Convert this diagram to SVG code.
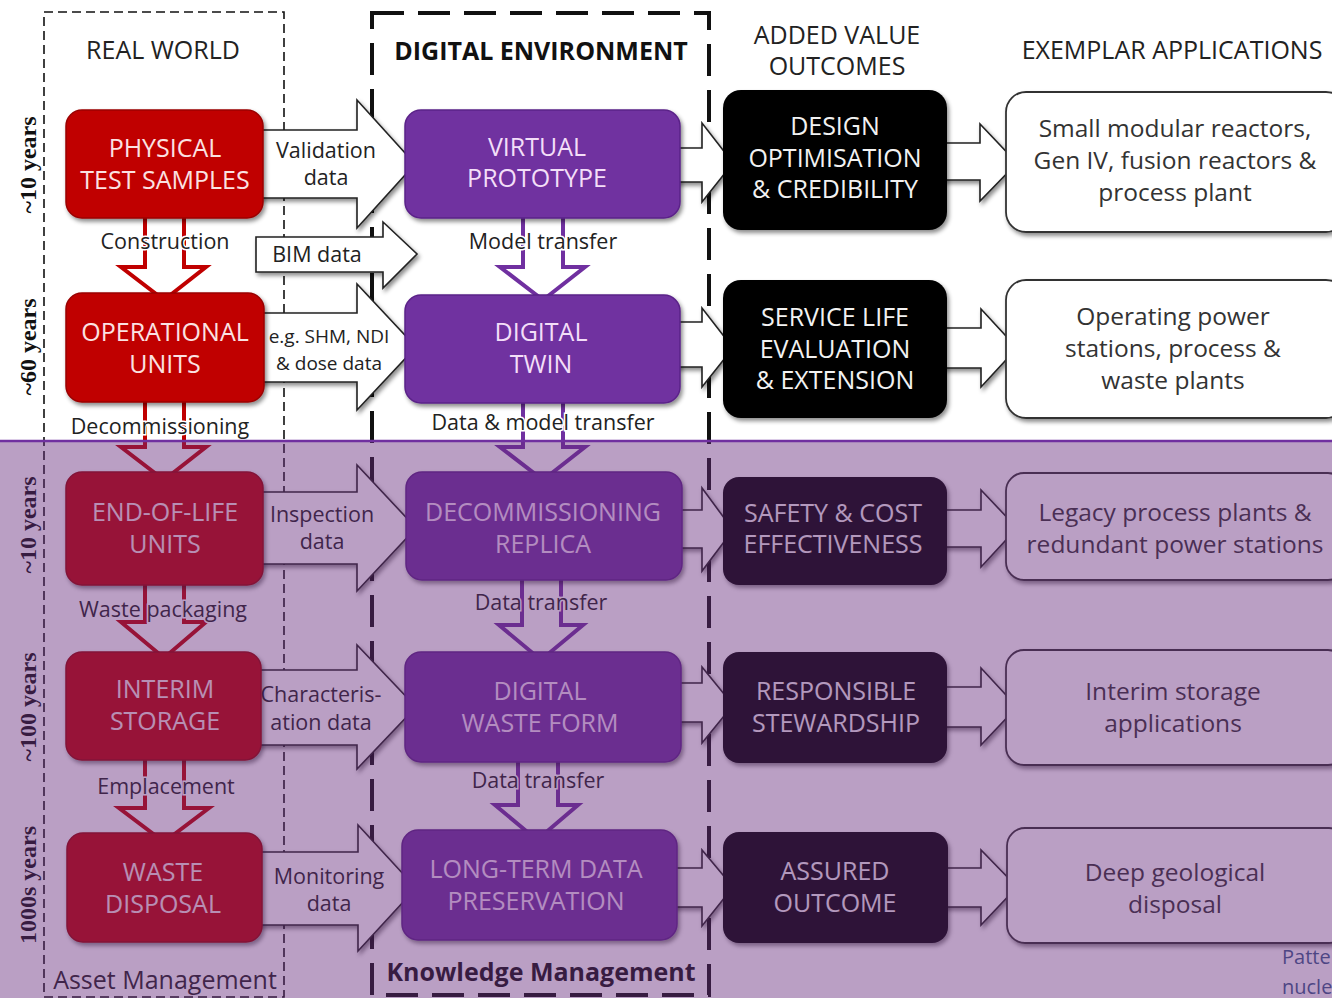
<svg xmlns="http://www.w3.org/2000/svg" width="1332" height="998" viewBox="0 0 1332 998">
  <defs>
    <filter id="shadow" x="-10%" y="-10%" width="130%" height="140%">
      <feDropShadow dx="2" dy="3" stdDeviation="2" flood-color="#000" flood-opacity="0.45"/>
    </filter>
    <style>
      text { font-family: "Open Sans", "Noto Sans", "Liberation Sans", sans-serif; text-anchor: middle; }
      .hdr { font-size: 25px; fill: #222; }
      .hdrb { font-size: 25px; font-weight: bold; fill: #111; }
      .yr { font-family: "Liberation Serif", "DejaVu Serif", serif; font-size: 24px; font-weight: bold; fill: #111; }
      .frame-thin { fill: none; stroke: #111; stroke-width: 1.6; stroke-dasharray: 9 5; }
      .frame-thick { fill: none; stroke: #111; stroke-width: 4; stroke-dasharray: 32 14; }
      .red { fill: #c00000; stroke: #9a0000; stroke-width: 1.5; filter: url(#shadow); }
      .pur { fill: #7030a0; stroke: #5a2288; stroke-width: 1.5; filter: url(#shadow); }
      .blk { fill: #000; filter: url(#shadow); }
      .wht { fill: #fff; stroke: #333; stroke-width: 1.8; filter: url(#shadow); }
      .tred { font-size: 25px; fill: #fbe2e2; }
      .tpur { font-size: 25px; fill: #f3def8; }
      .tblk { font-size: 25px; fill: #f2f2f2; }
      .twht { font-size: 24.5px; fill: #333; }
      .harrow { fill: #fff; stroke: #222; stroke-width: 1.6; stroke-linejoin: miter; filter: url(#shadow); }
      .varrow-red { fill: #fff; stroke: #c00000; stroke-width: 4; stroke-linejoin: miter; }
      .varrow-pur { fill: #fff; stroke: #7030a0; stroke-width: 4; stroke-linejoin: miter; }
      .alab { font-size: 21.5px; fill: #222; }
      .vlab { font-size: 21.5px; fill: #222; stroke: #fff; stroke-width: 3; paint-order: stroke; }
    </style>
  </defs>

  <rect x="0" y="0" width="1332" height="998" fill="#fff"/>

  <!-- column frames -->
  <g id="frames">
    <rect class="frame-thin" x="44" y="12" width="240" height="985"/>
    <rect class="frame-thick" x="372" y="13" width="337" height="982"/>
  </g>

  <!-- headers -->
  <g id="headers">
    <text class="hdr" x="163" y="59">REAL WORLD</text>
    <text class="hdrb" x="541" y="60">DIGITAL ENVIRONMENT</text>
    <text class="hdr" x="837" y="44">ADDED VALUE</text>
    <text class="hdr" x="837" y="75">OUTCOMES</text>
    <text class="hdr" x="1172" y="59">EXEMPLAR APPLICATIONS</text>
    <text class="hdr" x="165" y="989">Asset Management</text>
    <text class="hdrb" x="541" y="981">Knowledge Management</text>
  </g>

  <!-- time-scale labels -->
  <g id="timescale">
    <text class="yr" transform="translate(36,165) rotate(-90)">~10 years</text>
    <text class="yr" transform="translate(36,347) rotate(-90)">~60 years</text>
    <text class="yr" transform="translate(36,525) rotate(-90)">~10 years</text>
    <text class="yr" transform="translate(36,707) rotate(-90)">~100 years</text>
    <text class="yr" transform="translate(36,885) rotate(-90)">1000s years</text>
  </g>

  <!-- connectors -->
  <g id="connectors">
    <!-- real world to digital environment -->
    <path class="harrow" d="M250,130 L357,130 L357,100 L415,164 L357,228 L357,198 L250,198 Z"/>
    <path class="harrow" d="M256,237 L383,237 L383,222 L417,254 L383,288 L383,272 L256,272 Z"/>
    <path class="harrow" d="M250,313 L357,313 L357,284 L416,347 L357,410 L357,382 L250,382 Z"/>
    <path class="harrow" d="M250,492 L357,492 L357,465 L416,528 L357,591 L357,564 L250,564 Z"/>
    <path class="harrow" d="M250,670 L357,670 L357,645 L416,707 L357,769 L357,745 L250,745 Z"/>
    <path class="harrow" d="M250,852 L358,852 L358,825 L416,888 L358,951 L358,925 L250,925 Z"/>

    <!-- digital environment to outcomes -->
    <path class="harrow" d="M665,148 L702,148 L702,123 L733,163 L702,202 L702,182 L665,182 Z"/>
    <path class="harrow" d="M665,322 L702,322 L702,308 L733,348 L702,387 L702,367 L665,367 Z"/>
    <path class="harrow" d="M665,510 L702,510 L702,488 L733,530 L702,571 L702,548 L665,548 Z"/>
    <path class="harrow" d="M665,683 L702,683 L702,667 L733,705 L702,743 L702,722 L665,722 Z"/>
    <path class="harrow" d="M665,868 L702,868 L702,850 L733,887 L702,926 L702,907 L665,907 Z"/>

    <!-- outcomes to applications -->
    <path class="harrow" d="M935,143 L980,143 L980,124 L1017,163 L980,201 L980,180 L935,180 Z"/>
    <path class="harrow" d="M935,328 L981,328 L981,309 L1017,348 L981,387 L981,368 L935,368 Z"/>
    <path class="harrow" d="M935,510 L981,510 L981,490 L1017,528 L981,567 L981,547 L935,547 Z"/>
    <path class="harrow" d="M935,687 L981,687 L981,668 L1017,707 L981,745 L981,727 L935,727 Z"/>
    <path class="harrow" d="M935,868 L981,868 L981,850 L1017,887 L981,925 L981,907 L935,907 Z"/>

    <!-- real-world life-cycle steps -->
    <path class="varrow-red" d="M145,210 L145,267 L121,267 L164,300 L206,267 L184,267 L184,210"/>
    <path class="varrow-red" d="M145,395 L145,447 L121,447 L164,480 L206,447 L184,447 L184,395"/>
    <path class="varrow-red" d="M145,578 L145,622 L121,622 L164,658 L206,622 L184,622 L184,578"/>
    <path class="varrow-red" d="M145,752 L145,808 L119,808 L164,842 L209,808 L184,808 L184,752"/>

    <!-- digital-environment life-cycle steps -->
    <path class="varrow-pur" d="M523,210 L523,267 L500,267 L543,300 L585,267 L563,267 L563,210"/>
    <path class="varrow-pur" d="M523,395 L523,447 L500,447 L543,480 L585,447 L563,447 L563,395"/>
    <path class="varrow-pur" d="M522,575 L522,625 L499,625 L541,660 L583,625 L561,625 L561,575"/>
    <path class="varrow-pur" d="M518,755 L518,805 L495,805 L537,840 L578,805 L558,805 L558,755"/>

    <!-- connector labels -->
    <text class="alab" x="326" y="158">Validation</text>
    <text class="alab" x="326" y="185">data</text>
    <text class="alab" x="317" y="262">BIM data</text>
    <text class="alab" x="329" y="343" style="font-size:19px">e.g. SHM, NDI</text>
    <text class="alab" x="329" y="370" style="font-size:19px">&amp; dose data</text>
    <text class="alab" x="322" y="522">Inspection</text>
    <text class="alab" x="322" y="549">data</text>
    <text class="alab" x="321" y="702">Characteris-</text>
    <text class="alab" x="321" y="730">ation data</text>
    <text class="alab" x="329" y="884">Monitoring</text>
    <text class="alab" x="329" y="911">data</text>

    <text class="vlab" x="165" y="249">Construction</text>
    <text class="vlab" x="160" y="434">Decommissioning</text>
    <text class="vlab" x="163" y="617">Waste packaging</text>
    <text class="vlab" x="166" y="794">Emplacement</text>
    <text class="vlab" x="543" y="249">Model transfer</text>
    <text class="vlab" x="543" y="430">Data &amp; model transfer</text>
    <text class="vlab" x="541" y="610">Data transfer</text>
    <text class="vlab" x="538" y="788">Data transfer</text>
  </g>

  <!-- real world nodes -->
  <g id="physical-test-samples">
    <rect class="red" x="66" y="110" width="197" height="108" rx="16"/>
    <text class="tred" x="165" y="157">PHYSICAL</text>
    <text class="tred" x="165" y="189">TEST SAMPLES</text>
  </g>
  <g id="operational-units">
    <rect class="red" x="66" y="293" width="198" height="109" rx="16"/>
    <text class="tred" x="165" y="341">OPERATIONAL</text>
    <text class="tred" x="165" y="373">UNITS</text>
  </g>
  <g id="end-of-life-units">
    <rect class="red" x="66" y="472" width="197" height="113" rx="16"/>
    <text class="tred" x="165" y="521">END-OF-LIFE</text>
    <text class="tred" x="165" y="553">UNITS</text>
  </g>
  <g id="interim-storage">
    <rect class="red" x="66" y="652" width="195" height="108" rx="16"/>
    <text class="tred" x="165" y="698">INTERIM</text>
    <text class="tred" x="165" y="730">STORAGE</text>
  </g>
  <g id="waste-disposal">
    <rect class="red" x="67" y="833" width="195" height="109" rx="16"/>
    <text class="tred" x="163" y="881">WASTE</text>
    <text class="tred" x="163" y="913">DISPOSAL</text>
  </g>

  <!-- digital environment nodes -->
  <g id="virtual-prototype">
    <rect class="pur" x="405" y="110" width="275" height="108" rx="16"/>
    <text class="tpur" x="537" y="156">VIRTUAL</text>
    <text class="tpur" x="537" y="187">PROTOTYPE</text>
  </g>
  <g id="digital-twin">
    <rect class="pur" x="405" y="295" width="275" height="108" rx="16"/>
    <text class="tpur" x="541" y="341">DIGITAL</text>
    <text class="tpur" x="541" y="373">TWIN</text>
  </g>
  <g id="decommissioning-replica">
    <rect class="pur" x="406" y="472" width="276" height="108" rx="16"/>
    <text class="tpur" x="543" y="521">DECOMMISSIONING</text>
    <text class="tpur" x="543" y="553">REPLICA</text>
  </g>
  <g id="digital-waste-form">
    <rect class="pur" x="405" y="652" width="276" height="110" rx="16"/>
    <text class="tpur" x="540" y="700">DIGITAL</text>
    <text class="tpur" x="540" y="732">WASTE FORM</text>
  </g>
  <g id="long-term-data-preservation">
    <rect class="pur" x="402" y="830" width="275" height="110" rx="16"/>
    <text class="tpur" x="536" y="878">LONG-TERM DATA</text>
    <text class="tpur" x="536" y="910">PRESERVATION</text>
  </g>

  <!-- added value outcome nodes -->
  <g id="design-optimisation">
    <rect class="blk" x="723" y="90" width="224" height="140" rx="18"/>
    <text class="tblk" x="835" y="135">DESIGN</text>
    <text class="tblk" x="835" y="167">OPTIMISATION</text>
    <text class="tblk" x="835" y="198">&amp; CREDIBILITY</text>
  </g>
  <g id="service-life">
    <rect class="blk" x="723" y="280" width="224" height="138" rx="18"/>
    <text class="tblk" x="835" y="326">SERVICE LIFE</text>
    <text class="tblk" x="835" y="358">EVALUATION</text>
    <text class="tblk" x="835" y="389">&amp; EXTENSION</text>
  </g>
  <g id="safety-cost">
    <rect class="blk" x="723" y="477" width="224" height="108" rx="16"/>
    <text class="tblk" x="833" y="522">SAFETY &amp; COST</text>
    <text class="tblk" x="833" y="553">EFFECTIVENESS</text>
  </g>
  <g id="responsible-stewardship">
    <rect class="blk" x="723" y="652" width="224" height="111" rx="16"/>
    <text class="tblk" x="836" y="700">RESPONSIBLE</text>
    <text class="tblk" x="836" y="732">STEWARDSHIP</text>
  </g>
  <g id="assured-outcome">
    <rect class="blk" x="723" y="832" width="225" height="111" rx="16"/>
    <text class="tblk" x="835" y="880">ASSURED</text>
    <text class="tblk" x="835" y="912">OUTCOME</text>
  </g>

  <!-- exemplar application nodes -->
  <g id="app-smr">
    <rect class="wht" x="1006" y="92" width="340" height="140" rx="20"/>
    <text class="twht" x="1175" y="137">Small modular reactors,</text>
    <text class="twht" x="1175" y="169">Gen IV, fusion reactors &amp;</text>
    <text class="twht" x="1175" y="201">process plant</text>
  </g>
  <g id="app-operating">
    <rect class="wht" x="1006" y="280" width="340" height="138" rx="20"/>
    <text class="twht" x="1173" y="325">Operating power</text>
    <text class="twht" x="1173" y="357">stations, process &amp;</text>
    <text class="twht" x="1173" y="389">waste plants</text>
  </g>
  <g id="app-legacy">
    <rect class="wht" x="1006" y="473" width="340" height="107" rx="18"/>
    <text class="twht" x="1175" y="521">Legacy process plants &amp;</text>
    <text class="twht" x="1175" y="553">redundant power stations</text>
  </g>
  <g id="app-interim">
    <rect class="wht" x="1006" y="650" width="340" height="115" rx="18"/>
    <text class="twht" x="1173" y="700">Interim storage</text>
    <text class="twht" x="1173" y="732">applications</text>
  </g>
  <g id="app-deep">
    <rect class="wht" x="1007" y="828" width="340" height="115" rx="18"/>
    <text class="twht" x="1175" y="881">Deep geological</text>
    <text class="twht" x="1175" y="913">disposal</text>
  </g>

  <!-- end-of-life tint band -->
  <g id="end-of-life-band">
    <rect x="0" y="441" width="1332" height="557" fill="rgb(102,42,124)" fill-opacity="0.45"/>
    <line x1="0" y1="441" x2="1332" y2="441" stroke="#7030a0" stroke-width="2.5"/>
  </g>

  <g id="caption">
    <text x="1282" y="964" style="text-anchor:start;font-size:20px;fill:#4e4684">Patte</text>
    <text x="1282" y="994" style="text-anchor:start;font-size:20px;fill:#4e4684">nucle</text>
  </g>
</svg>
